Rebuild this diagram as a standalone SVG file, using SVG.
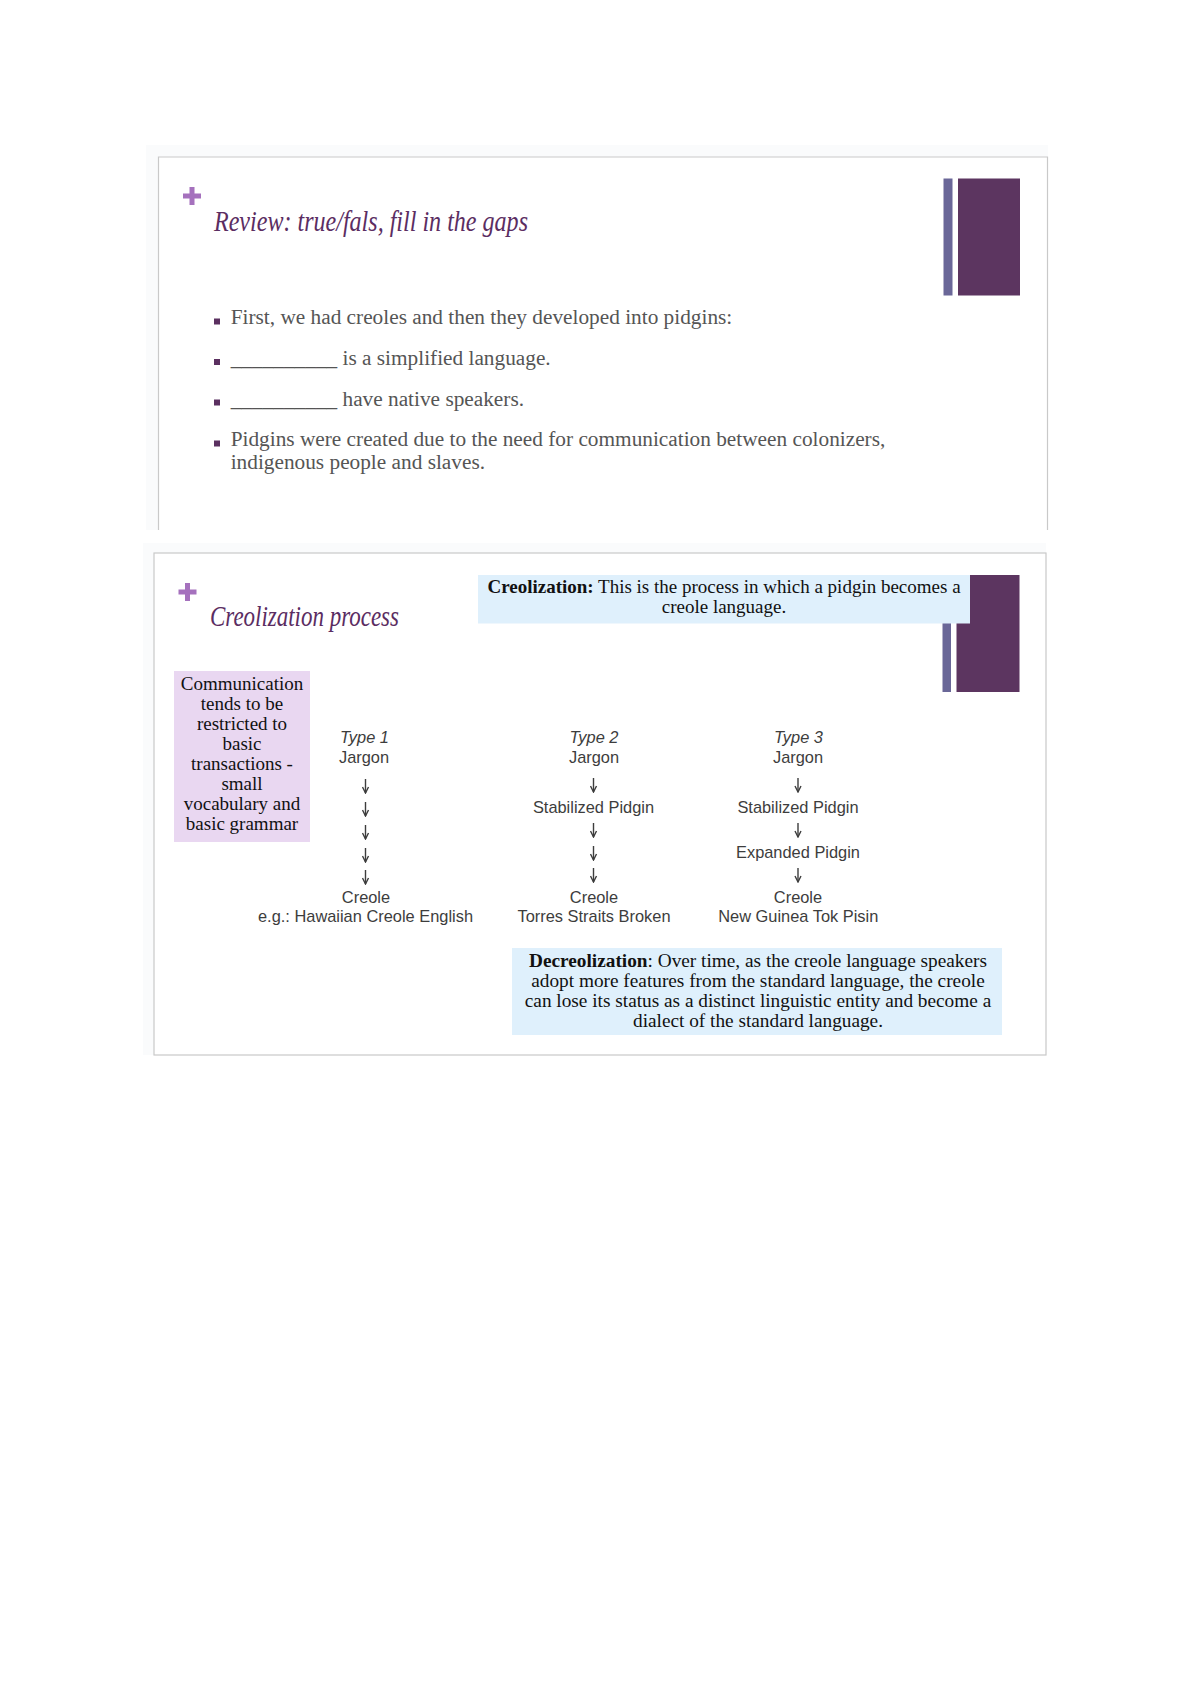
<svg xmlns="http://www.w3.org/2000/svg" width="1192" height="1684" viewBox="0 0 1192 1684">
<style>
.ttl{font-family:"Liberation Serif",serif;font-style:italic;font-size:29px;fill:#5b2d62}
.plus{fill:#a571bd}
.bar1{fill:#6a6798}
.bar2{fill:#5c3560}
.body{font-family:"Liberation Serif",serif;font-size:21.3px;fill:#555555}
.bul{fill:#5b3060}
.box{font-family:"Liberation Serif",serif;font-size:19px;fill:#111111}
.dec{font-size:19.3px}
.ctr{text-anchor:middle}
.b{font-weight:bold}
.flow{font-family:"Liberation Sans",Arial,sans-serif;font-size:16.4px;fill:#3d3d3d;text-anchor:middle}
.it{font-style:italic}
.arr{stroke:#3d3d3d;stroke-width:1.4;fill:none}
.shadow{fill:#fafbfc}
.frame{fill:#ffffff;stroke:#c9c9c9;stroke-width:1.2}
</style>
<defs>
<marker id="ah" viewBox="0 0 8 8" refX="7" refY="4" markerWidth="8" markerHeight="8" markerUnits="userSpaceOnUse" orient="auto">
<path d="M1,1 L7,4 L1,7" fill="none" stroke="#3d3d3d" stroke-width="1.4"/>
</marker>
</defs>
<rect width="1192" height="1684" fill="#ffffff"/>

<g id="slide1">
<rect class="shadow" x="146" y="145" width="902" height="385"/>
<rect x="158.5" y="157" width="889" height="380" fill="#ffffff"/>
<path d="M158.5,530 V157 H1047.5 V530" fill="none" stroke="#c9c9c9" stroke-width="1.2"/>
<g id="s1-plus">
<rect class="plus" x="183" y="193.5" width="18" height="5"/>
<rect class="plus" x="189.5" y="187" width="5" height="18"/>
</g>
<text id="s1-title" class="ttl" x="214" y="231" textLength="314" lengthAdjust="spacingAndGlyphs">Review: true/fals, fill in the gaps</text>
<g id="s1-bars">
<rect class="bar1" x="943.5" y="178.5" width="9" height="117"/>
<rect class="bar2" x="958" y="178.5" width="62" height="117"/>
</g>
<g id="s1-bullets">
<rect class="bul" x="214" y="318.5" width="6" height="6"/>
<text class="body" x="230.7" y="324.3">First, we had creoles and then they developed into pidgins:</text>
<rect class="bul" x="214" y="359" width="6" height="6"/>
<text class="body" x="230.7" y="365">__________ is a simplified language.</text>
<rect class="bul" x="214" y="399.5" width="6" height="6"/>
<text class="body" x="230.7" y="405.7">__________ have native speakers.</text>
<rect class="bul" x="214" y="440.5" width="6" height="6"/>
<text class="body" x="230.7" y="446">Pidgins were created due to the need for communication between colonizers,</text>
<text class="body" x="230.7" y="469">indigenous people and slaves.</text>
</g>
</g>

<g id="slide2">
<rect class="shadow" x="143" y="543" width="903" height="512"/>
<rect class="frame" x="154" y="553" width="892" height="502"/>
<g id="s2-plus">
<rect class="plus" x="178.5" y="589.5" width="18" height="5"/>
<rect class="plus" x="185" y="583" width="5" height="18"/>
</g>
<text id="s2-title" class="ttl" x="210" y="626" textLength="189" lengthAdjust="spacingAndGlyphs">Creolization process</text>
<g id="s2-bars">
<rect class="bar1" x="942.5" y="576" width="8.5" height="116"/>
<rect class="bar2" x="956.5" y="575" width="63" height="117"/>
</g>
<g id="creolization-box">
<rect x="478" y="575" width="492" height="48.5" fill="#dff0fc"/>
<text class="box ctr" x="724" y="593.3"><tspan class="b">Creolization:</tspan> This is the process in which a pidgin becomes a</text>
<text class="box ctr" x="724" y="613.3">creole language.</text>
</g>
<g id="comm-box">
<rect x="174" y="671" width="136" height="171" fill="#e9d7f1"/>
<text class="box ctr" x="242" y="690">Communication</text>
<text class="box ctr" x="242" y="710">tends to be</text>
<text class="box ctr" x="242" y="730">restricted to</text>
<text class="box ctr" x="242" y="750">basic</text>
<text class="box ctr" x="242" y="770">transactions -</text>
<text class="box ctr" x="242" y="789.5">small</text>
<text class="box ctr" x="242" y="809.5">vocabulary and</text>
<text class="box ctr" x="242" y="829.5">basic grammar</text>
</g>
<g id="type1">
<text class="flow it" x="364.5" y="743">Type 1</text>
<text class="flow" x="364" y="762.5">Jargon</text>
<text class="flow" x="366" y="902.5">Creole</text>
<text class="flow" x="365.5" y="921.5">e.g.: Hawaiian Creole English</text>
</g>
<g id="type2">
<text class="flow it" x="594" y="743">Type 2</text>
<text class="flow" x="594" y="762.5">Jargon</text>
<text class="flow" x="593.5" y="812.5">Stabilized Pidgin</text>
<text class="flow" x="594" y="902.5">Creole</text>
<text class="flow" x="594" y="921.5">Torres Straits Broken</text>
</g>
<g id="type3">
<text class="flow it" x="798.5" y="743">Type 3</text>
<text class="flow" x="798" y="762.5">Jargon</text>
<text class="flow" x="798" y="812.5">Stabilized Pidgin</text>
<text class="flow" x="798" y="857.5">Expanded Pidgin</text>
<text class="flow" x="798" y="902.5">Creole</text>
<text class="flow" x="798.3" y="921.5">New Guinea Tok Pisin</text>
</g>
<g id="decreolization-box">
<rect x="512" y="948" width="490" height="87" fill="#dff0fc"/>
<text class="box dec ctr" x="758" y="967"><tspan class="b">Decreolization</tspan>: Over time, as the creole language speakers</text>
<text class="box dec ctr" x="758" y="987">adopt more features from the standard language, the creole</text>
<text class="box dec ctr" x="758" y="1007">can lose its status as a distinct linguistic entity and become a</text>
<text class="box dec ctr" x="758" y="1027">dialect of the standard language.</text>
</g>
</g>

<g id="connectors" class="arr" marker-end="url(#ah)">
<path d="M365.5,779 V793"/>
<path d="M365.5,802 V816"/>
<path d="M365.5,825 V839"/>
<path d="M365.5,848 V862"/>
<path d="M365.5,870 V884"/>
<path d="M593.5,778 V792"/>
<path d="M593.5,823 V837"/>
<path d="M593.5,846 V860"/>
<path d="M593.5,868 V882"/>
<path d="M798,778 V792"/>
<path d="M798,823 V837"/>
<path d="M798,868 V882"/>
</g>
</svg>
